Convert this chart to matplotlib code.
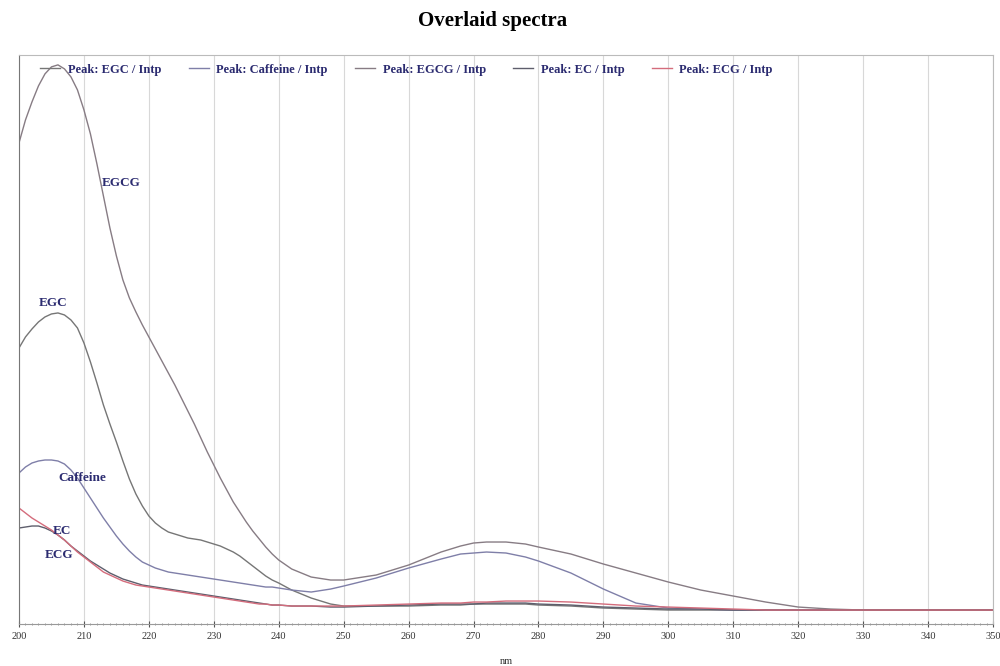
import numpy as np
import matplotlib
matplotlib.use("Agg")
import matplotlib.pyplot as plt
from matplotlib.ticker import MultipleLocator

# wavelengths (nm): 1 nm steps up to 240, coarser after
wl = list(range(200, 241)) + [242, 245, 248, 250, 255, 260, 265, 268, 270, 272, 275,
                              278, 280, 285, 290, 295, 300, 305, 310, 315, 320, 325,
                              330, 340, 350]

# absorbance (mAU)
egc = [262, 273, 281, 288, 293, 296, 297, 295, 290, 282,
       267, 248, 227, 205, 186, 168, 149, 131, 116, 104,
       94, 87, 82, 78, 76, 74, 72, 71, 70, 68,
       66, 64, 61, 58, 54, 49, 44, 39, 34, 30, 27,
       20, 12, 6, 4, 4, 4, 5, 5, 6, 6, 6, 6, 5, 4, 2, 1, 0, 0, 0, 0, 0, 0, 0, 0, 0]
caffeine = [137, 143, 147, 149, 150, 150, 149, 146, 140, 132,
            122, 112, 102, 92, 83, 74, 66, 59, 53, 48,
            45, 42, 40, 38, 37, 36, 35, 34, 33, 32,
            31, 30, 29, 28, 27, 26, 25, 24, 23, 23, 22,
            20, 18, 21, 24, 32, 42, 51, 56, 57, 58, 57, 53, 49, 37, 21, 7, 2, 1, 0, 0, 0, 0, 0, 0, 0]
egcg = [467, 490, 508, 524, 536, 543, 545, 541, 533, 520,
        500, 476, 446, 414, 382, 354, 330, 312, 298, 285,
        273, 261, 249, 237, 225, 212, 199, 186, 172, 158,
        145, 132, 120, 108, 98, 88, 79, 71, 63, 56, 50,
        41, 33, 30, 30, 35, 45, 58, 64, 67, 68, 68, 66, 63, 56, 46, 37, 28, 20, 14, 8, 3, 1, 0, 0, 0]
ec = [82, 83, 84, 84, 82, 79, 75, 70, 64, 59,
      54, 49, 45, 41, 37, 34, 31, 29, 27, 25,
      24, 23, 22, 21, 20, 19, 18, 17, 16, 15,
      14, 13, 12, 11, 10, 9, 8, 7, 6, 5, 5,
      4, 4, 3, 3, 4, 5, 6, 6, 6, 7, 7, 7, 6, 5, 3, 2, 1, 1, 0, 0, 0, 0, 0, 0, 0]
ecg = [102, 97, 92, 88, 84, 80, 75, 70, 64, 58,
       53, 48, 43, 38, 35, 32, 29, 27, 25, 24,
       23, 22, 21, 20, 19, 18, 17, 16, 15, 14,
       13, 12, 11, 10, 9, 8, 7, 6, 6, 5, 5,
       4, 4, 4, 4, 5, 6, 7, 7, 8, 8, 9, 9, 9, 8, 6, 4, 3, 2, 1, 0, 0, 0, 0, 0, 0]

series = [
    ("Peak: EGC / Intp", egc, "#767676"),
    ("Peak: Caffeine / Intp", caffeine, "#7f7fa8"),
    ("Peak: EGCG / Intp", egcg, "#877c84"),
    ("Peak: EC / Intp", ec, "#5e5e6c"),
    ("Peak: ECG / Intp", ecg, "#d46c7c"),
]

# (text, nm, mAU) labels next to the curves
labels = [("EGCG", 212.8, 427), ("EGC", 203.1, 307), ("Caffeine", 206.0, 132),
          ("EC", 205.2, 79), ("ECG", 203.9, 55)]

serif = ["Liberation Serif", "DejaVu Serif"]
navy = "#2b2b70"

fig = plt.figure(figsize=(10, 6.66), dpi=100)
ax = fig.add_axes([0.019, 0.063, 0.974, 0.8546])

for name, vals, col in series:
    ax.plot(wl, vals, color=col, lw=1.0, label=name)

for txt, x, y in labels:
    ax.text(x, y, txt, color=navy, fontsize=9.5, fontweight="bold",
            family=serif, va="center", ha="left")

ax.set_xlim(200, 350)
ax.set_ylim(-14, 555)
ax.xaxis.set_major_locator(MultipleLocator(10))
ax.xaxis.set_minor_locator(MultipleLocator(1))
ax.set_yticks([])
ax.grid(axis="x", color="#d8d8d8", lw=0.8)
ax.tick_params(axis="x", which="major", length=4, direction="inout",
               colors="#555555", labelsize=7.5, labelcolor="#333333")
ax.tick_params(axis="x", which="minor", length=2, direction="inout", colors="#888888")
for lab in ax.get_xticklabels():
    lab.set_family(serif)

for side in ["top", "right"]:
    ax.spines[side].set_color("#bbbbbb")
ax.spines["left"].set_color("#777777")
ax.spines["bottom"].set_color("#999999")

ax.set_xlabel("nm", fontsize=7.5, family=serif, color="#333333", labelpad=12)
fig.text(0.493, 0.968, "Overlaid spectra", ha="center", va="center",
         fontsize=15, fontweight="bold", family=serif)

leg = ax.legend(loc="upper left", ncol=5, frameon=False,
                bbox_to_anchor=(0.013, 1.0), handlelength=1.6, handletextpad=0.6,
                columnspacing=2.2, borderaxespad=0.3,
                prop={"family": serif, "weight": "bold", "size": 9})
for t in leg.get_texts():
    t.set_color(navy)

fig.savefig("out.png", dpi=100)
